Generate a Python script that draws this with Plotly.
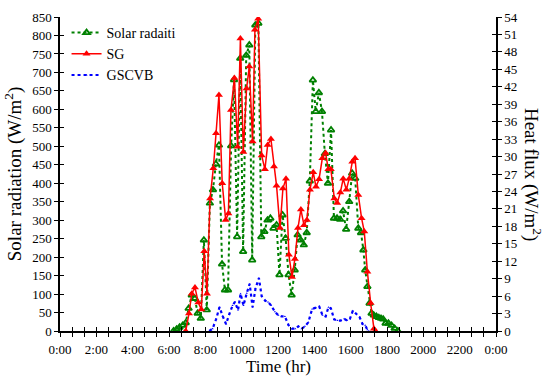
import plotly.graph_objects as go

# ---------------- data ----------------
solar_t = [6.25, 6.42, 6.58, 6.75, 6.92, 7.08, 7.25, 7.42, 7.58, 7.75, 7.92, 8.08, 8.25, 8.42, 8.58,
           8.75, 8.92, 9.08, 9.25, 9.42, 9.58, 9.75, 9.92, 10.08, 10.25, 10.42, 10.58, 10.75, 10.92,
           11.08, 11.25, 11.42, 11.58, 11.75, 11.92, 12.08, 12.25, 12.42, 12.58, 12.75, 12.92, 13.08,
           13.25, 13.42, 13.58, 13.75, 13.92, 14.08, 14.25, 14.42, 14.58, 14.75, 14.92, 15.08, 15.25,
           15.42, 15.58, 15.75, 15.92, 16.08, 16.25, 16.42, 16.57, 16.7, 16.8, 16.92, 17.04, 17.15,
           17.27, 17.42, 17.55, 17.67, 17.79, 17.92, 18.08, 18.25, 18.42, 18.6]
solar_v = [0, 5, 10, 15, 22, 61, 97, 88, 48, 34, 246, 57, 346, 382, 452,
           503, 181, 111, 111, 501, 680, 255, 738, 215, 746, 774, 192, 828, 833,
           255, 269, 300, 305, 278, 287, 152, 314, 251, 152, 97, 165, 260,
           246, 233, 266, 406, 679, 594, 645, 594, 480, 400, 544, 305, 305,
           302, 325, 275, 350, 427, 413, 278, 266, 219, 165, 120, 75, 48,
           43, 39, 36, 34, 32, 21, 21, 15, 7, 0]

sg_t = [6.92, 7.10, 7.25, 7.43, 7.61, 7.78, 7.94, 8.09, 8.26, 8.44, 8.59, 8.75, 8.93, 9.12, 9.27,
        9.41, 9.60, 9.78, 9.93, 10.09, 10.27, 10.42, 10.60, 10.73, 10.91, 11.10, 11.28, 11.43,
        11.61, 11.78, 11.92, 12.11, 12.27, 12.44, 12.60, 12.77, 12.93, 13.10, 13.26, 13.43, 13.59,
        13.76, 13.94, 14.09, 14.26, 14.44, 14.62, 14.77, 14.91, 15.10, 15.26, 15.43, 15.59, 15.76,
        15.92, 16.09, 16.24, 16.42, 16.60, 16.75, 16.92, 17.10, 17.28, 17.36]
sg_v = [0, 3.0, 6.4, 7.5, 4.9, 3.7, 13.7, 6.4, 22.8, 28.0, 34.0, 40.6, 25.4, 19.1, 20.2,
        38.0, 43.5, 31.7, 50.3, 30.8, 41.7, 45.5, 32.6, 51.8, 53.7, 30.2, 27.8, 32.0,
        33.0, 28.3, 25.0, 17.7, 24.5, 26.2, 13.1, 9.3, 12.4, 17.7, 20.9, 18.2, 19.1,
        24.3, 27.3, 24.8, 26.1, 29.7, 30.6, 27.8, 27.8, 22.8, 22.0, 23.8, 26.2, 24.3,
        26.2, 29.1, 29.7, 23.4, 19.4, 17.1, 10.2, 4.8, 0.4, 0]

gs_t = [8.22, 8.40, 8.59, 8.78, 8.95, 9.14, 9.32, 9.50, 9.63, 9.80, 9.94, 10.10, 10.28, 10.44,
        10.60, 10.76, 10.95, 11.10, 11.30, 11.45, 11.62, 11.83, 12.02, 12.20, 12.38, 12.58, 12.78,
        12.95, 13.12, 13.30, 13.48, 13.67, 13.88, 14.09, 14.27, 14.45, 14.62, 14.78, 14.91, 15.09,
        15.27, 15.45, 15.64, 15.80, 15.96, 16.12, 16.30, 16.49, 16.65, 16.80, 16.92, 17.00]
gs_v = [0, 0.4, 2.0, 4.1, 2.6, 1.2, 2.9, 4.4, 5.0, 3.6, 6.4, 4.4, 6.5, 8.1,
        4.1, 7.3, 9.1, 6.0, 5.2, 5.0, 4.4, 3.3, 2.7, 2.5, 2.5, 1.0, 0.4,
        0.4, 0.8, 0.4, 0.8, 1.5, 3.8, 4.0, 4.2, 2.7, 2.5, 4.1, 3.9, 2.0,
        1.8, 1.8, 2.1, 1.8, 2.1, 3.5, 3.0, 2.4, 1.2, 1.0, 0.2, 0]

x_tick_labels = ["0:00", "2:00", "4:00", "6:00", "8:00", "1000", "1200", "1400",
                 "1600", "1800", "2000", "2200", "0:00"]

# ---------------- figure ----------------
FONT = "Liberation Serif"
fig = go.Figure()

fig.add_trace(go.Scatter(
    x=solar_t, y=solar_v, name="Solar radaiti", mode="lines+markers",
    line=dict(color="#008000", width=2, dash="dot"),
    marker=dict(symbol="triangle-up-open", size=6, color="#008000", line=dict(width=1.8, color="#008000")),
    xaxis="x", yaxis="y"))

fig.add_trace(go.Scatter(
    x=sg_t, y=sg_v, name="SG", mode="lines+markers",
    line=dict(color="#ff0000", width=1.5),
    marker=dict(symbol="triangle-up", size=7, color="#ff0000"),
    xaxis="x", yaxis="y2"))

fig.add_trace(go.Scatter(
    x=gs_t, y=gs_v, name="GSCVB", mode="lines+markers",
    line=dict(color="#0000ff", width=2.2, dash="dot"),
    marker=dict(symbol="triangle-up", size=2, color="#0000ff"),
    xaxis="x", yaxis="y2"))

# invisible traces for the inner halves of the crossing tick marks
fig.add_trace(go.Scatter(x=[None], y=[None], xaxis="x2", yaxis="y3", showlegend=False, hoverinfo="skip"))
fig.add_trace(go.Scatter(x=[None], y=[None], xaxis="x2", yaxis="y4", showlegend=False, hoverinfo="skip"))

xt = [k * 2 / 3 for k in range(37)]
xtext = [x_tick_labels[k // 3] if k % 3 == 0 else " " for k in range(37)]

tickfont = dict(family=FONT, size=13, color="black")
common_x = dict(range=[0, 24], tickvals=xt, showgrid=False, zeroline=False,
                ticklen=4, tickwidth=1.2, tickcolor="black", automargin=False, tickangle=0)

fig.update_layout(
    width=546, height=376,
    margin=dict(l=60, r=50, t=17, b=45),
    paper_bgcolor="white", plot_bgcolor="white",
    font=dict(family=FONT, color="black"),
    showlegend=True,
    legend=dict(x=0.015, y=1.0, xanchor="left", yanchor="top",
                font=dict(family=FONT, size=14, color="black"),
                bgcolor="rgba(0,0,0,0)", borderwidth=0, tracegroupgap=0),
    xaxis=dict(**common_x, ticktext=xtext, ticks="outside", tickfont=tickfont,
               showline=True, linecolor="black", linewidth=2, anchor="y",
               ticklabelstandoff=1),
    xaxis2=dict(**common_x, ticks="inside", showticklabels=False, overlaying="x",
                anchor="y3", side="bottom", showline=False),
    yaxis=dict(range=[0, 850], dtick=50, tick0=0, ticks="outside", ticklen=4, tickwidth=1.2,
               tickcolor="black", showline=True, linecolor="black", linewidth=1.5,
               showgrid=False, zeroline=False, tickfont=tickfont, anchor="x", automargin=False,
               title=dict(text="Solar radiation (W/m<sup>2</sup>)", font=dict(family=FONT, size=19), standoff=6)),
    yaxis2=dict(range=[0, 54], dtick=3, tick0=0, ticks="outside", ticklen=4, tickwidth=1.2,
                tickcolor="black", showline=True, linecolor="black", linewidth=1.5,
                showgrid=False, zeroline=False, tickfont=tickfont, side="right",
                overlaying="y", anchor="x", automargin=False),
    yaxis3=dict(range=[0, 850], dtick=50, tick0=0, ticks="inside", ticklen=4, tickwidth=1.2,
                tickcolor="black", showticklabels=False, showgrid=False, zeroline=False,
                overlaying="y", anchor="x2", side="left", automargin=False),
    yaxis4=dict(range=[0, 54], dtick=3, tick0=0, ticks="inside", ticklen=4, tickwidth=1.2,
                tickcolor="black", showticklabels=False, showgrid=False, zeroline=False,
                overlaying="y", anchor="x2", side="right", automargin=False),
    annotations=[
        dict(text="Heat flux (W/m<sup>2</sup>)", textangle=90, showarrow=False,
             xref="paper", yref="paper", x=1.085, y=0.5, xanchor="center", yanchor="middle",
             font=dict(family=FONT, size=19, color="black")),
        dict(text="Time (hr)", showarrow=False, xref="paper", yref="paper",
             x=0.5, y=-0.078, xanchor="center", yanchor="top",
             font=dict(family=FONT, size=17, color="black")),
    ],
)

fig.write_html("out.html")
